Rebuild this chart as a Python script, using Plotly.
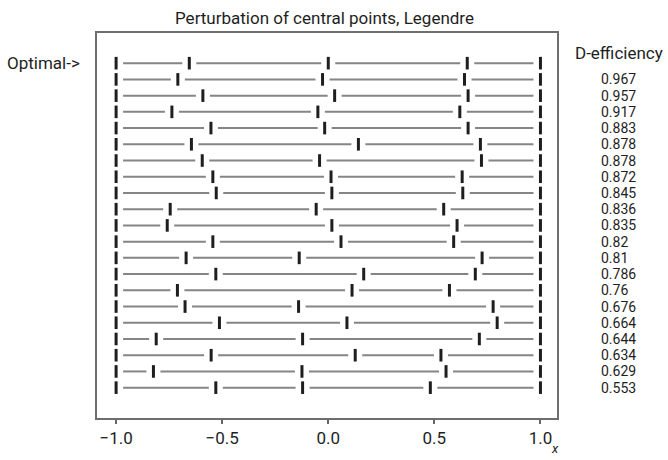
import numpy as np
import plotly.graph_objects as go

# Interior design points for each row (endpoints at -1 and 1)
left_pt = [-0.655, -0.709, -0.591, -0.737, -0.553, -0.645, -0.594, -0.544, -0.528, -0.745,
           -0.759, -0.544, -0.670, -0.530, -0.711, -0.675, -0.513, -0.811, -0.552, -0.824, -0.530]
mid_pt = [0.000, -0.027, 0.030, -0.049, -0.017, 0.142, -0.041, 0.013, 0.017, -0.057,
          0.017, 0.060, -0.137, 0.167, 0.112, -0.140, 0.088, -0.121, 0.127, -0.124, -0.121]
right_pt = [0.655, 0.642, 0.659, 0.620, 0.659, 0.717, 0.722, 0.631, 0.634, 0.544,
            0.607, 0.591, 0.725, 0.693, 0.571, 0.777, 0.796, 0.712, 0.531, 0.555, 0.481]
end_lo = -1.0
end_hi = 1.0
efficiency = ["0.967", "0.957", "0.917", "0.883", "0.878", "0.878", "0.872", "0.845", "0.836",
              "0.835", "0.82", "0.81", "0.786", "0.76", "0.676", "0.664", "0.644", "0.634",
              "0.629", "0.553"]
x_ticks = [-1.0, -0.5, 0.0, 0.5, 1.0]
x_tick_labels = ["\u22121.0", "\u22120.5", "0.0", "0.5", "1.0"]

FONT = "Roboto, Liberation Sans, sans-serif"
TXT = "#1e1e1e"

n = len(left_pt)
row_y = [n - i for i in range(n)]

# plot geometry
W, H = 668, 460
ml, mr, mt, mb = 97, 111, 33, 38
PW, PH = W - ml - mr, H - mt - mb
xr = [-1.09, 1.078]
yr = [-0.87, 22.86]
px_per_unit = PW / (xr[1] - xr[0])
gap = 7.0 / px_per_unit  # gap around each point, like R type="b"

mx, my, lx, ly = [], [], [], []
for i in range(n):
    pts = [end_lo, left_pt[i], mid_pt[i], right_pt[i], end_hi]
    y = row_y[i]
    mx += pts
    my += [y] * len(pts)
    for a, b in zip(pts[:-1], pts[1:]):
        if b - a > 2 * gap:
            lx += [a + gap, b - gap, None]
            ly += [y, y, None]

fig = go.Figure()
fig.add_trace(go.Scatter(x=lx, y=ly, mode="lines",
                         line=dict(color="#858585", width=2), hoverinfo="skip",
                         showlegend=False))
fig.add_trace(go.Scatter(x=mx, y=my, mode="markers",
                         marker=dict(symbol="line-ns", size=9,
                                     line=dict(color="#1e1e1e", width=3)),
                         showlegend=False))


def px_x(p):
    return (p - ml) / PW


def px_y(p):
    return 1 - (p - mt) / PH


annots = []
# efficiency labels for rows 2..n
for k, txt in enumerate(efficiency):
    annots.append(dict(x=px_x(599), xref="paper", xanchor="left",
                       y=row_y[k + 1], yref="y", yanchor="middle", text=txt,
                       showarrow=False, font=dict(family=FONT, size=14, color=TXT)))
annots.append(dict(x=px_x(665), xref="paper", xanchor="right",
                   y=px_y(53), yref="paper", yanchor="middle",
                   text="D-efficiency", showarrow=False,
                   font=dict(family=FONT, size=17, color=TXT)))
annots.append(dict(x=px_x(82), xref="paper", xanchor="right",
                   y=row_y[0], yref="y", yanchor="middle", text="Optimal->",
                   showarrow=False, font=dict(family=FONT, size=17, color=TXT)))
annots.append(dict(x=px_x(555), xref="paper", xanchor="center",
                   y=px_y(443), yref="paper", yanchor="top",
                   text="<i>x</i>", showarrow=False,
                   font=dict(family=FONT, size=13, color=TXT)))
annots.append(dict(x=px_x(324), xref="paper", xanchor="center",
                   y=px_y(18), yref="paper", yanchor="middle",
                   text="Perturbation of central points, Legendre", showarrow=False,
                   font=dict(family=FONT, size=17, color=TXT)))

fig.update_layout(
    width=W, height=H,
    margin=dict(l=ml, r=mr, t=mt, b=mb),
    paper_bgcolor="white", plot_bgcolor="white",
    annotations=annots,
    xaxis=dict(range=xr, tickvals=x_ticks, ticktext=x_tick_labels,
               ticks="outside", ticklen=4, tickwidth=1.5, tickcolor="#666",
               showgrid=False, zeroline=False, showline=True, mirror=True,
               linecolor="#6e6e6e", linewidth=2,
               tickfont=dict(family=FONT, size=17, color=TXT)),
    yaxis=dict(range=yr, showticklabels=False, ticks="", showgrid=False,
               zeroline=False, showline=True, mirror=True,
               linecolor="#6e6e6e", linewidth=2),
)

fig.write_html("out.html", config={"displayModeBar": False},
               post_script="document.body.style.margin='0px';document.body.style.overflow='hidden';")
